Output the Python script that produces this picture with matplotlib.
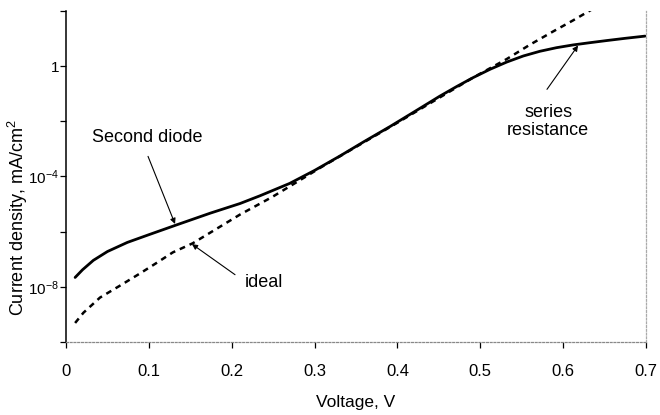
import matplotlib
matplotlib.use("Agg")
import matplotlib.pyplot as plt
import numpy as np

plt.rcParams['font.family'] = ['Liberation Sans', 'DejaVu Sans']
plt.rcParams['mathtext.fontset'] = 'custom'
plt.rcParams['mathtext.rm'] = 'Liberation Sans'
plt.rcParams['mathtext.it'] = 'Liberation Sans'

# Solid curve (total current, second diode + series resistance)
solid_v = [0.011, 0.02, 0.033, 0.05, 0.074, 0.10, 0.132, 0.174, 0.21, 0.234,
           0.27, 0.30, 0.331, 0.36, 0.391, 0.42, 0.451, 0.472, 0.491, 0.512,
           0.532, 0.552, 0.572, 0.592, 0.612, 0.632, 0.653, 0.675, 0.699]
solid_log10_j = [-7.66, -7.38, -7.04, -6.72, -6.39, -6.11, -5.77, -5.33, -4.98, -4.70,
                 -4.25, -3.78, -3.25, -2.73, -2.19, -1.66, -1.09, -0.73, -0.42, -0.11,
                 0.15, 0.37, 0.54, 0.67, 0.77, 0.85, 0.93, 1.01, 1.09]

# Dashed curve (ideal diode)
ideal_v = [0.011, 0.021, 0.041, 0.065, 0.089, 0.110, 0.129, 0.153, 0.21, 0.249,
           0.288, 0.307, 0.40, 0.491, 0.532, 0.56, 0.588, 0.612, 0.636]
ideal_log10_j = [-9.31, -8.94, -8.39, -7.96, -7.52, -7.12, -6.75, -6.42, -5.38, -4.74,
                 -4.03, -3.68, -2.05, -0.42, 0.26, 0.78, 1.26, 1.66, 2.08]

x_ticks = [0, 0.1, 0.2, 0.3, 0.4, 0.5, 0.6, 0.7]
x_tick_labels = ['0', '0.1', '0.2', '0.3', '0.4', '0.5', '0.6', '0.7']
y_ticks = [1e2, 1, 1e-2, 1e-4, 1e-6, 1e-8, 1e-10]
y_tick_labels = ['', '1', '', '$10^{-4}$', '', '$10^{-8}$', '']

fig = plt.figure(figsize=(6.6, 4.15), dpi=100)
ax = fig.add_axes([66/660, 1 - 342/415, (646-66)/660, (342-11)/415])

ax.plot(solid_v, 10**np.array(solid_log10_j), color='black', lw=2.0,
        solid_capstyle='round', solid_joinstyle='round')
ax.plot(ideal_v, 10**np.array(ideal_log10_j), color='black', lw=1.8,
        linestyle=(0, (2.3, 2.0)))

ax.set_yscale('log')
ax.set_xlim(0, 0.7)
ax.set_ylim(1e-10, 1e2)
ax.set_xticks(x_ticks)
ax.set_xticklabels(x_tick_labels, fontsize=12)
ax.set_yticks(y_ticks)
ax.set_yticklabels(y_tick_labels, fontsize=11)
ax.yaxis.set_minor_locator(matplotlib.ticker.NullLocator())
ax.tick_params(axis='both', direction='out', length=4, width=0.9, color='black')
ax.tick_params(axis='x', pad=12)
ax.tick_params(axis='y', pad=1)

ax.spines['left'].set_linewidth(1.1)
for s in ['bottom', 'right', 'top']:
    ax.spines[s].set_linestyle((0, (1.5, 1.5)))
    ax.spines[s].set_linewidth(0.9)
ax.spines['bottom'].set_color('#888888')
ax.spines['right'].set_color('#aaaaaa')
ax.spines['top'].set_visible(False)

ax.set_xlabel('Voltage, V', fontsize=12.5, labelpad=11)
fig.text(18/660, 1 - 218/415, 'Current density, mA/cm$^2$', rotation=90,
         fontsize=13, ha='center', va='center')

arrow = dict(arrowstyle='-|>', color='black', lw=0.8, mutation_scale=8,
             shrinkA=0, shrinkB=0)
ax.text(0.031, 10**-2.58, 'Second diode', fontsize=13, ha='left', va='center')
ax.annotate('', xy=(0.1316, 10**-5.72), xytext=(0.099, 10**-3.27), arrowprops=arrow)
ax.text(0.216, 10**-7.85, 'ideal', fontsize=13, ha='left', va='center')
ax.annotate('', xy=(0.152, 10**-6.45), xytext=(0.204, 10**-7.56), arrowprops=arrow)
ax.text(0.582, 10**-2.0, 'series\nresistance', fontsize=13, ha='center', va='center',
        linespacing=1.1)
ax.annotate('', xy=(0.618, 10**0.75), xytext=(0.5805, 10**-0.84), arrowprops=arrow)

fig.savefig('out.png', dpi=100)
